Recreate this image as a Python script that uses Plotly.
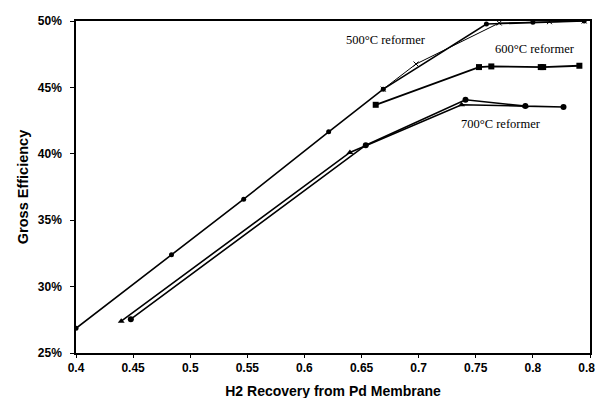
import plotly.graph_objects as go

# 500°C reformer (main line, circle markers)
r500_x = [0.400, 0.4836, 0.5468, 0.6212, 0.669, 0.7593, 0.800, 0.8449]
r500_y = [0.2686, 0.3239, 0.3658, 0.4166, 0.4487, 0.4977, 0.4990, 0.5000]
# 500°C reformer (thin variant, x markers)
r500b_x = [0.669, 0.6977, 0.7705, 0.8145, 0.8449]
r500b_y = [0.4487, 0.4676, 0.4985, 0.4995, 0.5000]
# 600°C reformer (square markers)
r600_x = [0.6624, 0.7528, 0.7636, 0.8069, 0.809, 0.8407]
r600_y = [0.4369, 0.4653, 0.4658, 0.4653, 0.4653, 0.4663]
# 700°C reformer (triangle markers)
r700a_x = [0.4396, 0.6398, 0.7376, 0.7934]
r700a_y = [0.2740, 0.4010, 0.4369, 0.4359]
# 700°C reformer (circle markers)
r700b_x = [0.4480, 0.6537, 0.741, 0.7934, 0.8268]
r700b_y = [0.2755, 0.4065, 0.4407, 0.4359, 0.4352]

labels = ["500°C reformer", "600°C reformer", "700°C reformer"]
label_x = [0.6713, 0.8016, 0.7721]
label_y = [0.4859, 0.4787, 0.4224]

x_ticks = [0.4, 0.45, 0.5, 0.55, 0.6, 0.65, 0.7, 0.75, 0.8, 0.85]
x_tick_text = ["0.4", "0.45", "0.5", "0.55", "0.6", "0.65", "0.7", "0.75", "0.8", "0.85"]
y_ticks = [0.25, 0.30, 0.35, 0.40, 0.45, 0.50]
y_tick_text = ["25%", "30%", "35%", "40%", "45%", "50%"]

fig = go.Figure()
fig.add_trace(go.Scatter(x=r500_x, y=r500_y, mode="lines+markers",
                         line=dict(color="black", width=1.6),
                         marker=dict(symbol="circle", size=5, color="black")))
fig.add_trace(go.Scatter(x=r500b_x, y=r500b_y, mode="lines+markers",
                         line=dict(color="black", width=1),
                         marker=dict(symbol="x-thin", size=5, color="black",
                                     line=dict(color="black", width=1))))
fig.add_trace(go.Scatter(x=r600_x, y=r600_y, mode="lines+markers",
                         line=dict(color="black", width=1.8),
                         marker=dict(symbol="square", size=6, color="black")))
fig.add_trace(go.Scatter(x=r700a_x, y=r700a_y, mode="lines+markers",
                         line=dict(color="black", width=1.6),
                         marker=dict(symbol="triangle-up", size=6, color="black")))
fig.add_trace(go.Scatter(x=r700b_x, y=r700b_y, mode="lines+markers",
                         line=dict(color="black", width=1.6),
                         marker=dict(symbol="circle", size=6, color="black")))

for t, lx, ly in zip(labels, label_x, label_y):
    fig.add_annotation(x=lx, y=ly, text=t, showarrow=False,
                       font=dict(family="Liberation Serif", size=12.5, color="black"))

fig.update_layout(
    width=603, height=398,
    margin=dict(l=68, r=21, t=13, b=53),
    paper_bgcolor="white", plot_bgcolor="white",
    showlegend=False,
    font=dict(family="Liberation Sans", color="black"),
)
fig.update_xaxes(range=[0.4, 0.85], tickvals=x_ticks, ticktext=x_tick_text,
                 automargin=False,
                 showgrid=False, zeroline=False, showline=True, linecolor="black",
                 linewidth=1.5, mirror=True, ticks="outside", ticklen=3,
                 tickcolor="black",
                 tickfont=dict(family="Liberation Sans", size=12, weight="bold"),
                 title=dict(text="<b>H2 Recovery from Pd Membrane</b>",
                            font=dict(family="Liberation Sans", size=14), standoff=12))
fig.update_yaxes(range=[0.25, 0.50], tickvals=y_ticks, ticktext=y_tick_text,
                 automargin=False,
                 showgrid=False, zeroline=False, showline=True, linecolor="black",
                 linewidth=1.5, mirror=True, ticks="outside", ticklen=4,
                 tickcolor="black", ticklabelstandoff=6,
                 tickfont=dict(family="Liberation Sans", size=12, weight="bold"),
                 title=dict(text="<b>Gross Efficiency</b>",
                            font=dict(family="Liberation Sans", size=14.5), standoff=6))

fig.write_html("out.html")
